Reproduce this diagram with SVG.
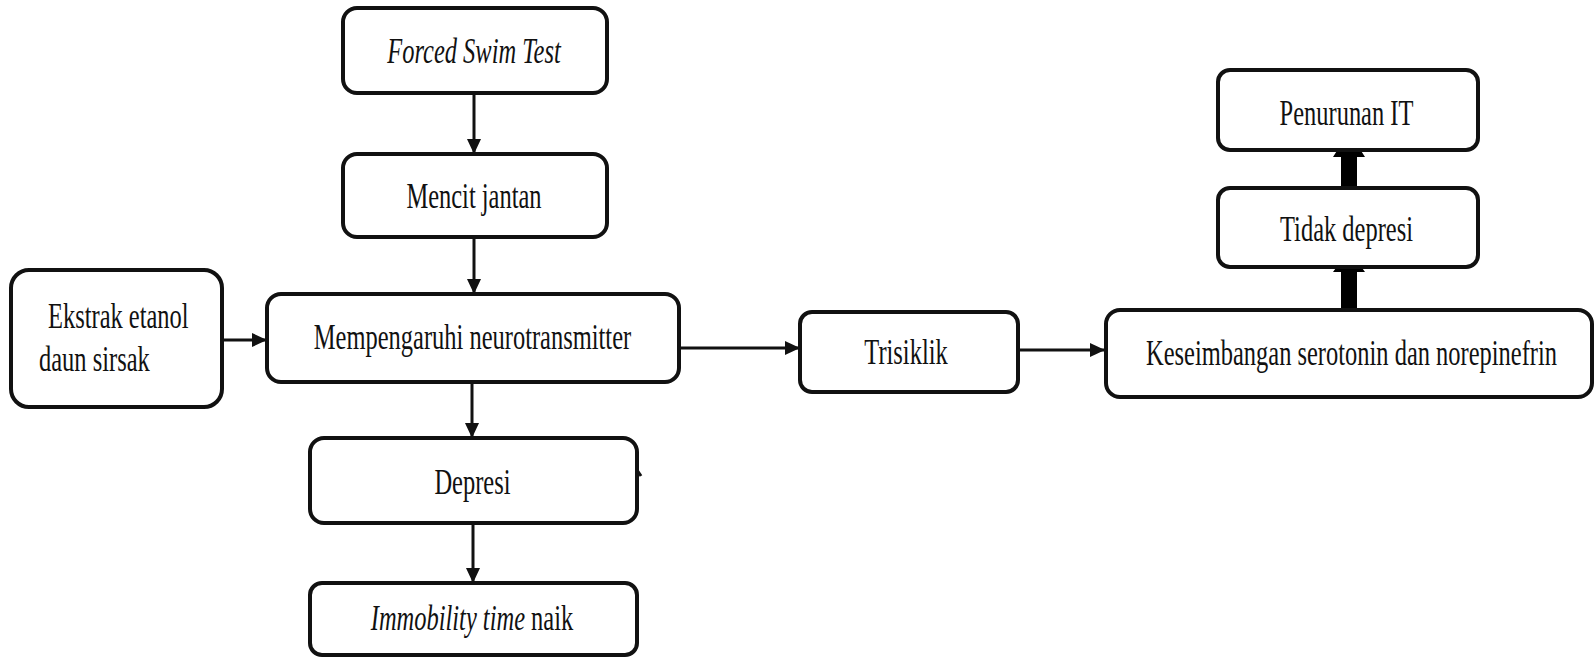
<svg xmlns="http://www.w3.org/2000/svg" width="1594" height="657" viewBox="0 0 1594 657">
<defs>
<style>
.box{fill:#fff;stroke:#111;stroke-width:4}
.t{font-family:"Liberation Serif","Times New Roman",serif;font-size:36px;fill:#111;text-anchor:middle}
.s{text-anchor:start}
.i{font-style:italic}
.ln{stroke:#111;stroke-width:3;fill:none;marker-end:url(#ah)}
.thick{fill:#000}
</style>
<marker id="ah" markerUnits="userSpaceOnUse" markerWidth="15" markerHeight="14" refX="15" refY="7" orient="auto">
<path d="M0,0 L15,7 L0,14 z" fill="#111"/>
</marker>
</defs>
<rect width="1594" height="657" fill="#fff"/>
<g id="connectors">
<line class="ln" x1="474" y1="93" x2="474" y2="154"/>
<line class="ln" x1="474" y1="237" x2="474" y2="294"/>
<line class="ln" x1="472" y1="382" x2="472" y2="438"/>
<line class="ln" x1="473" y1="523" x2="473" y2="583"/>
<line class="ln" x1="222" y1="340" x2="267" y2="340"/>
<line class="ln" x1="679" y1="348" x2="800" y2="348"/>
<line class="ln" x1="1018" y1="350" x2="1105" y2="350"/>
<polygon class="thick" points="1341,309 1341,272 1333,272 1349,250 1365,272 1357,272 1357,309"/>
<polygon class="thick" points="1341,189 1341,157 1333,157 1349,132 1365,157 1357,157 1357,189"/>
<line x1="637" y1="470" x2="641" y2="476" stroke="#111" stroke-width="3"/>
</g>
<g id="fst">
<rect class="box" x="343" y="8" width="264" height="85" rx="14"/>
<text class="t i" transform="translate(474,63) scale(0.68,1)">Forced Swim Test</text>
</g>
<g id="mencit">
<rect class="box" x="343" y="154" width="264" height="83" rx="14"/>
<text class="t" transform="translate(474,208) scale(0.68,1)">Mencit jantan</text>
</g>
<g id="ekstrak">
<rect class="box" x="11" y="270" width="211" height="137" rx="18"/>
<text class="t s" transform="translate(48,328) scale(0.68,1)">Ekstrak etanol</text>
<text class="t s" transform="translate(39,371) scale(0.68,1)">daun sirsak</text>
</g>
<g id="mempengaruhi">
<rect class="box" x="267" y="294" width="412" height="88" rx="14"/>
<text class="t" transform="translate(472.5,349) scale(0.68,1)">Mempengaruhi neurotransmitter</text>
</g>
<g id="depresi">
<rect class="box" x="310" y="438" width="327" height="85" rx="14"/>
<text class="t" transform="translate(472.5,494) scale(0.68,1)">Depresi</text>
</g>
<g id="immobility">
<rect class="box" x="310" y="583" width="327" height="72" rx="12"/>
<text class="t" transform="translate(472,630) scale(0.68,1)"><tspan class="i">Immobility time</tspan> naik</text>
</g>
<g id="trisiklik">
<rect class="box" x="800" y="312" width="218" height="80" rx="12"/>
<text class="t" transform="translate(906,364) scale(0.68,1)">Trisiklik</text>
</g>
<g id="keseimbangan">
<rect class="box" x="1106" y="310" width="486" height="87" rx="14"/>
<text class="t" transform="translate(1351.5,365) scale(0.68,1)">Keseimbangan serotonin dan norepinefrin</text>
</g>
<g id="tidak">
<rect class="box" x="1218" y="188" width="260" height="79" rx="12"/>
<text class="t" transform="translate(1346.5,241) scale(0.68,1)">Tidak depresi</text>
</g>
<g id="penurunan">
<rect class="box" x="1218" y="70" width="260" height="80" rx="12"/>
<text class="t" transform="translate(1346.5,125) scale(0.68,1)">Penurunan IT</text>
</g>
</svg>
